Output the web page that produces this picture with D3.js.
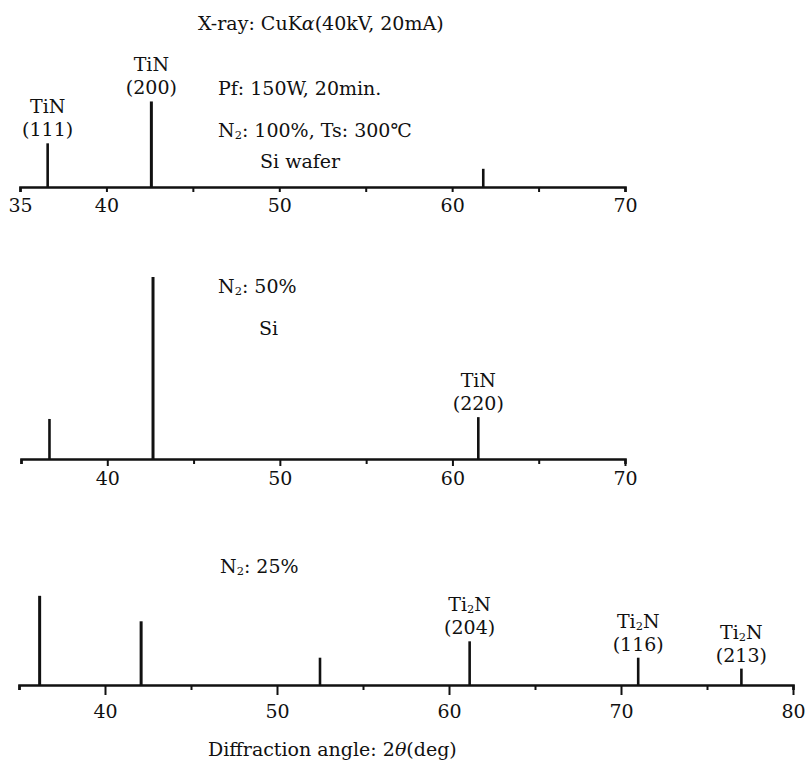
<!DOCTYPE html>
<html>
<head>
<meta charset="utf-8">
<script src="https://cdn.jsdelivr.net/npm/d3@7"></script>
<style>
  body { margin: 0; background: #fff; }
  text { font-family: "DejaVu Serif", "Liberation Serif", serif; fill: #111; }
</style>
</head>
<body>
<div id="chart"></div>
<script>
// peak positions (2theta, deg) and relative intensities
const angleN100 = [36.6, 42.6, 61.8];
const intenN100 = [24, 47, 10];
const labelN100 = [["TiN", "(111)"], ["TiN", "(200)"], null];

const angleN50 = [36.65, 42.65, 61.5];
const intenN50 = [22, 100, 23];
const labelN50 = [null, null, ["TiN", "(220)"]];

const angleN25 = [36.2, 42.1, 52.5, 61.2, 71.0, 77.0];
const intenN25 = [49, 35, 15, 24, 15, 9];
const labelN25 = [null, null, null, ["Ti2N", "(204)"], ["Ti2N", "(116)"], ["Ti2N", "(213)"]];

const ticksShort = [35, 40, 45, 50, 55, 60, 65, 70];
const ticksLong = [35, 40, 45, 50, 55, 60, 65, 70, 75, 80];
const labelsTop = [35, 40, 50, 60, 70];
const labelsMid = [40, 50, 60, 70];
const labelsBot = [40, 50, 60, 70, 80];

const width = 805, height = 760;
const fs = '19px';
const svg = d3.select('#chart').append('svg')
    .attr('width', width)
    .attr('height', height);

// intensity -> bar height in px, shared by all three patterns
const hScale = d3.scaleLinear().domain([0, 100]).range([0, 182]);

// writes "Ti2N" with a small lowered 2
function chem(sel, str) {
    const parts = str.split('2');
    sel.append('tspan').text(parts[0]);
    for (let i = 1; i < parts.length; i++) {
        sel.append('tspan').attr('font-size', '0.6em').attr('dy', 2).text('2');
        sel.append('tspan').attr('dy', -2).text(parts[i]);
    }
}

function drawPattern(angles, intens, labels, axisY, domain, range, ticks, tickLabels, major, labelOffset) {
    const x = d3.scaleLinear().domain(domain).range(range);
    const y = d => axisY - hScale(d);

    const axis = d3.axisBottom(x)
        .tickValues(ticks)
        .tickSize(5)
        .tickSizeOuter(5)
        .tickFormat(d => tickLabels.includes(d) ? d : '');

    const g = svg.append('g').attr('transform', `translate(0,${axisY})`).call(axis);
    g.select('.domain').attr('stroke', '#111').attr('stroke-width', 2.6);
    g.selectAll('.tick line')
        .attr('stroke', '#111')
        .attr('stroke-width', 2)
        .attr('y2', d => tickLabels.includes(d) ? major : 5);
    g.selectAll('.tick text')
        .attr('y', labelOffset)
        .attr('dy', 0)
        .style('font-size', fs)
        .style('font-family', '"DejaVu Serif", serif')
        .attr('fill', '#111');

    // diffraction peaks
    svg.selectAll(null)
        .data(angles)
        .enter()
        .append('line')
        .attr('x1', d => x(d))
        .attr('x2', d => x(d))
        .attr('y1', axisY)
        .attr('y2', (d, i) => y(intens[i]))
        .attr('stroke', '#111')
        .attr('stroke-width', (d, i) => intens[i] > 30 ? 3 : 2.6);

    // peak labels
    angles.forEach((a, i) => {
        if (!labels[i]) return;
        const top = y(intens[i]);
        const t1 = svg.append('text')
            .attr('x', x(a))
            .attr('y', top - 30)
            .attr('text-anchor', 'middle')
            .style('font-size', fs);
        chem(t1, labels[i][0]);
        svg.append('text')
            .attr('x', x(a))
            .attr('y', top - 7)
            .attr('text-anchor', 'middle')
            .style('font-size', fs)
            .text(labels[i][1]);
    });
}

drawPattern(angleN100, intenN100, labelN100, 187, [35, 70], [20, 625], ticksShort, labelsTop, 5, 25);
drawPattern(angleN50, intenN50, labelN50, 459, [35, 70], [21, 625], ticksShort, labelsMid, 7, 26);
drawPattern(angleN25, intenN25, labelN25, 685, [35, 80], [19, 793], ticksLong, labelsBot, 10, 33);

// annotations
function note(x, y, str) {
    return svg.append('text').attr('x', x).attr('y', y).style('font-size', fs).text(str);
}
function nitrogen(x, y, rest) {
    const t = svg.append('text').attr('x', x).attr('y', y).style('font-size', fs);
    t.append('tspan').text('N');
    t.append('tspan').attr('font-size', '0.6em').attr('dy', 2).text('2');
    t.append('tspan').attr('dy', -2).text(rest);
}

const xr = svg.append('text').attr('x', 198).attr('y', 30).style('font-size', fs);
xr.append('tspan').text('X-ray: CuK');
xr.append('tspan').attr('font-style', 'italic').text('α');
xr.append('tspan').text('(40kV, 20mA)');

note(218, 95, 'Pf: 150W, 20min.');
nitrogen(218, 137, ': 100%, Ts: 300℃');
note(260, 168, 'Si wafer');

nitrogen(218, 293, ': 50%');
note(259, 335, 'Si');

nitrogen(220, 573, ': 25%');

const xl = svg.append('text').attr('x', 208).attr('y', 756).style('font-size', fs);
xl.append('tspan').text('Diffraction angle: 2');
xl.append('tspan').attr('font-style', 'italic').text('θ');
xl.append('tspan').text('(deg)');
</script>
</body>
</html>
